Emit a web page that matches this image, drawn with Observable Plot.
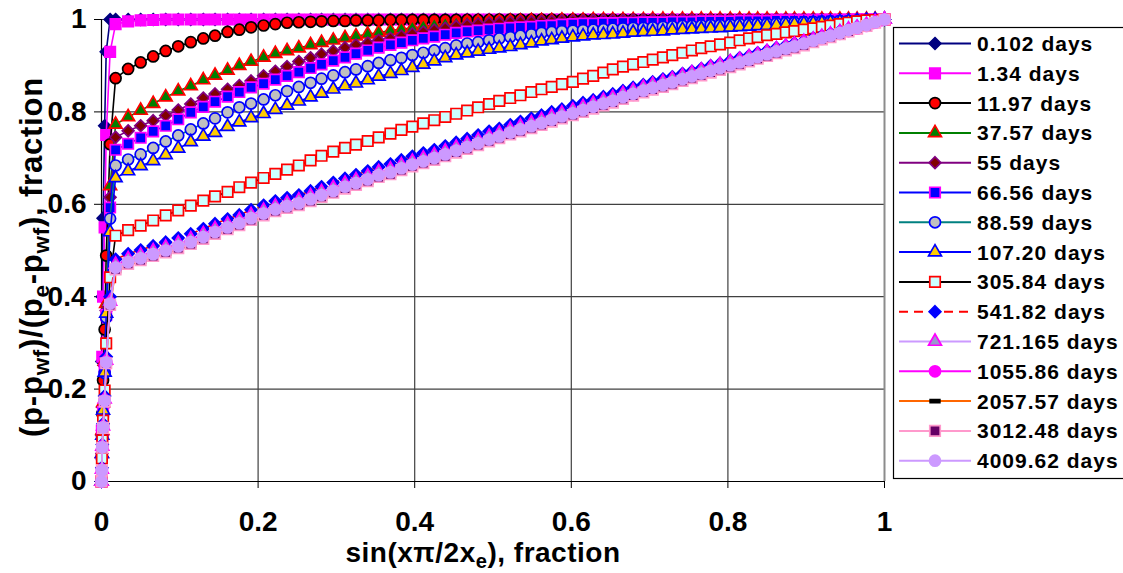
<!DOCTYPE html>
<html><head><meta charset="utf-8">
<script src="https://cdn.jsdelivr.net/npm/d3@7"></script>
<script src="https://cdn.jsdelivr.net/npm/@observablehq/plot@0.6"></script>
<style>body{margin:0;background:#fff}#chart{width:1123px;height:573px;overflow:hidden}</style>
</head><body><div id="chart"></div>
<script>
// ---------------- data ----------------
const seriesNames = ["0.102 days","1.34 days","11.97 days","37.57 days","55 days","66.56 days","88.59 days","107.20 days","305.84 days","541.82 days","721.165 days","1055.86 days","2057.57 days","3012.48 days","4009.62 days"];
const xTicks = [0, 0.2, 0.4, 0.6, 0.8, 1];
const yTicks = [0, 0.2, 0.4, 0.6, 0.8, 1];

// sin(x*pi/2xe) positions: near-well points, then the main grid
const sNear = [0,0.0005,0.001,0.002,0.004,0.006,0.011];
const sGrid = [
0.018,0.034,0.050,0.066,0.082,0.098,0.114,0.130,0.145,0.161,
0.176,0.191,0.207,0.222,0.237,0.252,0.267,0.281,0.296,0.311,
0.325,0.340,0.354,0.369,0.383,0.397,0.411,0.425,0.439,0.453,
0.467,0.481,0.495,0.508,0.522,0.535,0.549,0.562,0.575,0.588,
0.602,0.615,0.628,0.641,0.653,0.666,0.679,0.692,0.704,0.717,
0.729,0.742,0.754,0.766,0.778,0.790,0.803,0.815,0.827,0.838,
0.850,0.862,0.874,0.885,0.897,0.909,0.920,0.931,0.943,0.954,
0.965,0.977,0.988,1.000];

const y0102 = [0,0.26,0.40,0.57,0.77,0.93,1,
1,1,1,1,1,1,1,1,1,1, 1,1,1,1,1,1,1,1,1,1, 1,1,1,1,1,1,1,1,1,1, 1,1,1,1,1,1,1,1,1,1,
1,1,1,1,1,1,1,1,1,1, 1,1,1,1,1,1,1,1,1,1, 1,1,1,1,1,1,1,1,1,1, 1,1,1,1];
const y134 = [0,0.11,0.27,0.40,0.55,0.75,0.93,
0.990,0.996,0.998,0.999,1,1,1,1,1,1, 1,1,1,1,1,1,1,1,1,1, 1,1,1,1,1,1,1,1,1,1, 1,1,1,1,1,1,1,1,1,1,
1,1,1,1,1,1,1,1,1,1, 1,1,1,1,1,1,1,1,1,1, 1,1,1,1,1,1,1,1,1,1, 1,1,1,1];
const y1197 = [0,0.10,0.147,0.219,0.329,0.489,0.73,
0.873,0.893,0.907,0.920,0.932,0.942,0.951,0.959,0.965,0.973,
0.978,0.983,0.987,0.990,0.993,0.994,0.995,0.996,0.997,0.997,
0.998,0.998,0.998,0.999,0.999,0.999,0.999,0.999,0.999,0.999,
0.999,0.999,0.999,1,1,1,1,1,1,1,
1,1,1,1,1,1,1,1,1,1, 1,1,1,1,1,1,1,1,1,1, 1,1,1,1,1,1,1,1,1,1, 1,1,1,1];
const y3757 = [0,0.06,0.11,0.17,0.26,0.385,0.64,
0.773,0.789,0.803,0.818,0.832,0.845,0.856,0.869,0.879,0.890,
0.900,0.909,0.918,0.926,0.932,0.938,0.945,0.950,0.955,0.960,
0.964,0.968,0.972,0.976,0.979,0.982,0.985,0.988,0.990,0.991,
0.993,0.994,0.995,0.995,0.996,0.996,0.997,0.997,0.997,0.998,
0.998,0.998,0.999,0.999,0.999,0.999,0.999,0.999,1,1,
1,1,1,1,1,1,1,1,1,1, 1,1,1,1,1,1,1,1,1,1, 1,1,1,1];
const y55 = [0,0.06,0.10,0.16,0.25,0.37,0.615,
0.745,0.759,0.770,0.781,0.792,0.804,0.817,0.830,0.839,0.849,
0.857,0.867,0.878,0.888,0.898,0.909,0.917,0.925,0.932,0.939,
0.945,0.949,0.955,0.959,0.964,0.969,0.973,0.977,0.981,0.985,
0.988,0.990,0.992,0.993,0.994,0.995,0.995,0.996,0.996,0.997,
0.997,0.997,0.998,0.998,0.998,0.998,0.999,0.999,0.999,0.999,
0.999,0.999,0.999,0.999,0.999,0.999,0.999,0.999,0.999,0.999,
0.999,1,1,1,1,1,1,1,1,1, 1,1,1,1];
const y6656 = [0,0.06,0.10,0.15,0.24,0.36,0.593,
0.718,0.731,0.744,0.758,0.770,0.784,0.799,0.811,0.822,0.833,
0.843,0.853,0.861,0.870,0.878,0.886,0.895,0.903,0.911,0.918,
0.926,0.933,0.939,0.945,0.950,0.955,0.959,0.963,0.967,0.971,
0.974,0.976,0.978,0.980,0.982,0.983,0.984,0.986,0.987,0.989,
0.990,0.991,0.991,0.992,0.992,0.993,0.993,0.994,0.994,0.994,
0.995,0.995,0.995,0.996,0.996,0.996,0.996,0.997,0.997,0.997,
0.997,0.998,0.998,0.998,0.998,0.998,0.999,0.999,0.999,0.999,
1,1,1,1];
const y8859 = [0,0.05,0.095,0.145,0.235,0.355,0.569,
0.684,0.697,0.708,0.722,0.736,0.749,0.762,0.775,0.786,0.799,
0.810,0.818,0.827,0.836,0.845,0.854,0.863,0.872,0.879,0.886,
0.892,0.899,0.906,0.912,0.917,0.923,0.928,0.933,0.938,0.944,
0.948,0.951,0.955,0.959,0.962,0.965,0.968,0.971,0.973,0.975,
0.976,0.977,0.978,0.979,0.980,0.981,0.982,0.982,0.983,0.984,
0.985,0.986,0.986,0.987,0.988,0.988,0.989,0.990,0.990,0.991,
0.991,0.992,0.993,0.993,0.994,0.995,0.995,0.996,0.997,0.997,
0.998,0.999,0.999,1];
const y10720 = [0,0.06,0.10,0.154,0.236,0.364,0.54,
0.657,0.672,0.683,0.694,0.707,0.721,0.735,0.747,0.755,0.768,
0.778,0.787,0.796,0.805,0.814,0.823,0.832,0.840,0.849,0.856,
0.862,0.869,0.877,0.883,0.889,0.896,0.903,0.910,0.917,0.923,
0.927,0.931,0.935,0.938,0.941,0.945,0.949,0.953,0.956,0.959,
0.962,0.964,0.966,0.967,0.968,0.970,0.972,0.973,0.974,0.975,
0.977,0.978,0.979,0.980,0.981,0.982,0.983,0.984,0.985,0.986,
0.987,0.988,0.989,0.990,0.991,0.992,0.993,0.994,0.995,0.996,
0.997,0.998,0.999,1];
const y30584 = [0,0.05,0.089,0.132,0.197,0.299,0.442,
0.532,0.544,0.554,0.565,0.576,0.587,0.597,0.608,0.617,0.627,
0.637,0.647,0.657,0.666,0.675,0.684,0.695,0.705,0.714,0.722,
0.729,0.737,0.745,0.753,0.761,0.768,0.775,0.782,0.789,0.796,
0.803,0.810,0.817,0.824,0.830,0.836,0.843,0.849,0.854,0.860,
0.865,0.872,0.878,0.885,0.892,0.898,0.903,0.908,0.913,0.918,
0.923,0.928,0.933,0.938,0.942,0.946,0.950,0.955,0.959,0.962,
0.966,0.969,0.972,0.975,0.978,0.981,0.984,0.987,0.990,0.993,
0.996,0.998,0.999,1];
const y54182 = [0,0.03,0.08,0.125,0.185,0.27,0.40,
0.481,0.493,0.501,0.510,0.518,0.527,0.536,0.547,0.558,0.568,
0.577,0.588,0.598,0.607,0.614,0.620,0.629,0.638,0.647,0.656,
0.664,0.672,0.681,0.687,0.696,0.704,0.711,0.718,0.726,0.734,
0.742,0.750,0.758,0.764,0.772,0.779,0.786,0.793,0.800,0.806,
0.813,0.820,0.826,0.833,0.839,0.846,0.853,0.859,0.865,0.871,
0.876,0.883,0.888,0.894,0.900,0.905,0.911,0.917,0.922,0.928,
0.933,0.939,0.944,0.949,0.954,0.960,0.965,0.970,0.975,0.980,
0.985,0.990,0.995,1];
const y721165 = [0,0.026,0.076,0.12,0.178,0.262,0.39,
0.470,0.482,0.490,0.499,0.507,0.516,0.525,0.536,0.547,0.557,
0.566,0.577,0.587,0.596,0.603,0.609,0.618,0.627,0.636,0.645,
0.653,0.661,0.670,0.676,0.685,0.693,0.700,0.707,0.715,0.723,
0.731,0.739,0.747,0.754,0.762,0.769,0.776,0.783,0.790,0.797,
0.804,0.811,0.818,0.825,0.831,0.839,0.846,0.853,0.859,0.865,
0.871,0.878,0.884,0.890,0.896,0.902,0.908,0.913,0.919,0.924,
0.930,0.936,0.942,0.946,0.952,0.957,0.963,0.968,0.973,0.979,
0.983,0.989,0.995,1];
const y105586 = [0,0.025,0.075,0.118,0.176,0.26,0.387,
0.461,0.473,0.481,0.490,0.498,0.507,0.516,0.527,0.538,0.548,
0.557,0.568,0.578,0.587,0.594,0.600,0.609,0.618,0.627,0.636,
0.644,0.652,0.661,0.667,0.676,0.684,0.691,0.698,0.706,0.714,
0.722,0.730,0.738,0.745,0.753,0.760,0.767,0.774,0.781,0.788,
0.795,0.802,0.809,0.816,0.822,0.830,0.837,0.844,0.850,0.856,
0.862,0.869,0.875,0.881,0.887,0.893,0.899,0.905,0.911,0.917,
0.923,0.929,0.935,0.940,0.946,0.952,0.958,0.963,0.969,0.975,
0.980,0.986,0.993,1];
const y205757 = [0,0.022,0.072,0.114,0.171,0.253,0.378,
0.456,0.468,0.476,0.485,0.493,0.502,0.511,0.522,0.533,0.543,
0.552,0.563,0.573,0.582,0.589,0.595,0.604,0.613,0.622,0.631,
0.639,0.647,0.656,0.662,0.671,0.679,0.686,0.693,0.701,0.709,
0.717,0.725,0.733,0.740,0.748,0.755,0.762,0.769,0.776,0.783,
0.790,0.797,0.804,0.811,0.817,0.825,0.832,0.839,0.845,0.851,
0.857,0.864,0.870,0.876,0.882,0.888,0.894,0.900,0.906,0.912,
0.919,0.925,0.931,0.937,0.943,0.949,0.955,0.961,0.967,0.973,
0.979,0.985,0.992,1];
const y301248 = [0,0.024,0.073,0.116,0.173,0.256,0.382,
0.459,0.471,0.479,0.488,0.496,0.505,0.514,0.525,0.536,0.546,
0.555,0.566,0.576,0.585,0.592,0.598,0.607,0.616,0.625,0.634,
0.642,0.650,0.659,0.665,0.674,0.682,0.689,0.696,0.704,0.712,
0.720,0.728,0.736,0.743,0.751,0.758,0.765,0.772,0.779,0.786,
0.793,0.800,0.807,0.814,0.820,0.828,0.835,0.842,0.848,0.854,
0.860,0.867,0.873,0.879,0.885,0.891,0.897,0.903,0.909,0.915,
0.921,0.927,0.933,0.938,0.944,0.951,0.957,0.962,0.968,0.974,
0.980,0.986,0.993,1];
const y400962 = [0,0.024,0.074,0.117,0.175,0.258,0.385,
0.463,0.475,0.483,0.492,0.500,0.509,0.518,0.529,0.540,0.550,
0.559,0.570,0.580,0.589,0.596,0.602,0.611,0.620,0.629,0.638,
0.646,0.654,0.663,0.669,0.678,0.686,0.693,0.700,0.708,0.716,
0.724,0.732,0.740,0.747,0.755,0.762,0.769,0.776,0.783,0.790,
0.797,0.804,0.811,0.818,0.824,0.832,0.839,0.846,0.852,0.858,
0.864,0.871,0.877,0.883,0.889,0.895,0.901,0.907,0.913,0.919,
0.925,0.931,0.937,0.942,0.948,0.954,0.960,0.965,0.971,0.977,
0.982,0.988,0.994,1];

// ---------------- styles ----------------
const dashSymbol = {draw(ctx, size) { const w = Math.sqrt(size) * 1.3, h = 3; ctx.moveTo(-w/2,-h/2); ctx.lineTo(w/2,-h/2); ctx.lineTo(w/2,h/2); ctx.lineTo(-w/2,h/2); ctx.closePath(); }};
const markerSymbol = ["diamond2","square","circle","triangle","diamond2","square","circle","triangle","square","diamond2","triangle","circle",dashSymbol,"square","circle"];
const lineColor   = ["#000080","#FF00FF","#000000","#008000","#800080","#0000FF","#008080","#0000FF","#000000","#FF0000","#CC99FF","#FF00FF","#FF6600","#FF99CC","#CC99FF"];
const markFill    = ["#000080","#FF00FF","#FF0000","#008000","#800000","#0000FF","#C0C0C0","#FFCC00","#CCFFFF","#0000FF","#9999CC","#FF00FF","#000000","#660066","#CC99FF"];
const markStroke  = ["#000080","#FF00FF","#000000","#FF0000","#800080","#FF00FF","#0000FF","#0000FF","#FF0000","#0000FF","#FF00FF","#FF00FF","#000000","#FF99CC","#CC99FF"];
const lineDash    = [null,null,null,null,null,null,null,null,null,"9,6",null,null,null,null,null];
const symR = {diamond2: 5.3, square: 5.9, circle: 5.5, triangle: 4.8};

const yAll = [y0102,y134,y1197,y3757,y55,y6656,y8859,y10720,y30584,y54182,y721165,y105586,y205757,y301248,y400962];
const sAll = sNear.concat(sGrid);
const tables = yAll.map(ys => ys.map((y, i) => ({s: sAll[i], y})));

const FONT = "'Liberation Sans', Arial, Helvetica, sans-serif";

const seriesMarks = [];
tables.forEach((t, k) => {
  seriesMarks.push(Plot.line(t, {x: "s", y: "y", stroke: lineColor[k], strokeWidth: 1.6, strokeDasharray: lineDash[k] || undefined}));
  const sym = markerSymbol[k];
  const r = typeof sym === "string" ? symR[sym] : 4.2;
  seriesMarks.push(Plot.dot(t, {x: "s", y: "y", symbol: sym, r, fill: markFill[k], stroke: markStroke[k], strokeWidth: 1.7}));
});

const chart = Plot.plot({
  width: 1123, height: 573,
  marginLeft: 101, marginRight: 239, marginTop: 19, marginBottom: 92,
  style: {fontFamily: FONT, background: "#fff", overflow: "visible"},
  x: {domain: [0, 1]},
  y: {domain: [0, 1]},
  marks: [
    Plot.gridX([0.2, 0.4, 0.6, 0.8], {stroke: "#404040", strokeOpacity: 1, strokeWidth: 1.2}),
    Plot.gridY([0.2, 0.4, 0.6, 0.8, 1], {stroke: "#404040", strokeOpacity: 1, strokeWidth: 1.2}),
    Plot.ruleX([1], {stroke: "#8c8c8c", strokeWidth: 2}),
    Plot.ruleX([0], {stroke: "#000", strokeWidth: 1.2}),
    Plot.ruleY([0], {stroke: "#000", strokeWidth: 1.2}),
    Plot.axisX({ticks: xTicks, tickFormat: d => String(d), tickSize: 7, tickPadding: 23, fontSize: 28, fontWeight: "bold", label: null, stroke: "#000"}),
    Plot.axisY({ticks: yTicks, tickFormat: d => String(d), tickSize: 7, tickPadding: 8, fontSize: 28, fontWeight: "bold", label: null, stroke: "#000"}),
    ...seriesMarks
  ]
});
document.getElementById("chart").appendChild(chart);

// ---------------- titles & legend ----------------
const svg = d3.select(chart);
function addParts(el, parts, shift) {
  let low = false;
  parts.forEach(([txt, sub]) => {
    const t = el.append("tspan").text(txt);
    if (sub) { t.attr("font-size", "0.72em"); if (!low) t.attr("dy", shift); low = true; }
    else { if (low) t.attr("dy", -shift); low = false; }
  });
}
const yt = svg.append("text")
  .attr("transform", "translate(42,257) rotate(-90)")
  .attr("text-anchor", "middle").attr("font-family", FONT).attr("font-weight", "bold")
  .attr("font-size", 31).attr("letter-spacing", 0.8).attr("fill", "#000");
addParts(yt, [["(p-p"],["wf",1],[")/(p"],["e",1],["-p"],["wf",1],["), fraction"]], 7);
const xt = svg.append("text")
  .attr("x", 483).attr("y", 562)
  .attr("text-anchor", "middle").attr("font-family", FONT).attr("font-weight", "bold")
  .attr("font-size", 28).attr("letter-spacing", 0.5).attr("fill", "#000");
addParts(xt, [["sin(x\u03c0/2x"],["e",1],["), fraction"]], 6);

const lg = svg.append("g");
lg.append("rect").attr("x", 893.5).attr("y", 27.5).attr("width", 240).attr("height", 451)
  .attr("fill", "#fff").attr("stroke", "#000").attr("stroke-width", 1.2);
const d3sym = {diamond2: d3.symbolDiamond2, square: d3.symbolSquare, circle: d3.symbolCircle, triangle: d3.symbolTriangle};
seriesNames.forEach((name, k) => {
  const cy = 43.5 + k * 29.8;
  lg.append("line").attr("x1", 899).attr("x2", 971).attr("y1", cy).attr("y2", cy)
    .attr("stroke", lineColor[k]).attr("stroke-width", 2).attr("stroke-dasharray", lineDash[k]);
  const sym = markerSymbol[k];
  const r = typeof sym === "string" ? symR[sym] : 4.2;
  const type = typeof sym === "string" ? d3sym[sym] : sym;
  lg.append("path").attr("transform", `translate(935,${cy})`).attr("d", d3.symbol(type, r * r * Math.PI)())
    .attr("fill", markFill[k]).attr("stroke", markStroke[k]).attr("stroke-width", 1.7);
  lg.append("text").attr("x", 977).attr("y", cy).attr("dy", "0.36em").attr("text-anchor", "start")
    .attr("font-family", FONT).attr("font-weight", "bold").attr("font-size", 21).attr("letter-spacing", 1)
    .attr("fill", "#000").text(name);
});
</script>
</body></html>
